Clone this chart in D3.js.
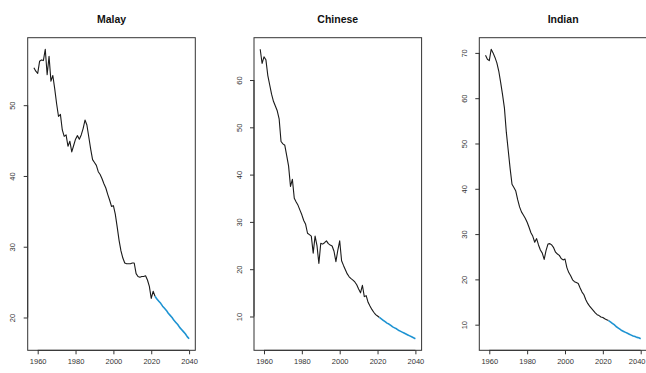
<!DOCTYPE html>
<html>
<head>
<meta charset="utf-8">
<script src="https://cdn.jsdelivr.net/npm/d3@7"></script>
<style>
  html, body { margin: 0; padding: 0; background: #fff; }
  svg { display: block; }
  text { font-family: "Liberation Sans", Arial, Helvetica, sans-serif; }
</style>
</head>
<body>
<svg id="chart" width="646" height="373"></svg>
<script>
// Observed series start in 1958; forecasts run to 2040.
const histStart = 1958;

const malayHist = [55.3, 54.8, 54.5, 56.2, 56.4, 56.3, 57.9, 54.3, 56.9, 53.4,
  54.2, 52.3, 50.2, 48.4, 48.7, 46.5, 45.6, 45.8, 44.2, 44.9,
  43.4, 44.3, 45.2, 45.7, 45.2, 45.8, 46.7, 47.9, 47.2, 45.5,
  43.8, 42.3, 41.9, 41.5, 40.6, 40.2, 39.6, 38.9, 38.3, 37.4,
  36.6, 35.7, 35.8, 34.6, 32.8, 30.9, 29.4, 28.4, 27.7, 27.6,
  27.6, 27.6, 27.7, 27.7, 26.2, 25.8, 25.7, 25.8, 25.8, 25.9,
  25.3, 24.4, 22.7, 23.7, 23.0];
const malayFcstStart = 2022;
const malayFcst = [23.0, 22.6, 22.3, 22.0, 21.6, 21.3, 21.0, 20.6, 20.3, 20.0,
  19.6, 19.3, 19.0, 18.6, 18.3, 18.0, 17.7, 17.3, 17.0];

const chineseHist = [66.5, 63.5, 64.9, 64.3, 61.0, 59.0, 57.0, 55.5, 54.5, 53.5,
  51.8, 47.0, 46.5, 46.2, 44.0, 41.8, 37.5, 39.0, 35.0, 34.2,
  33.5, 32.5, 31.5, 30.3, 29.5, 27.6, 27.3, 27.0, 23.4, 27.0,
  25.0, 21.2, 25.5, 25.3, 25.6, 26.0, 25.4, 25.1, 24.9, 23.8,
  21.6, 24.0, 26.0, 21.8, 20.8, 19.9, 19.0, 18.4, 18.0, 17.7,
  17.3, 16.7, 15.8, 15.0, 16.6, 14.2, 14.4, 13.0, 12.2, 11.5,
  10.9, 10.4, 10.1, 9.8];
const chineseFcstStart = 2021;
const chineseFcst = [9.8, 9.5, 9.2, 8.9, 8.6, 8.4, 8.1, 7.8, 7.6, 7.4,
  7.1, 6.9, 6.7, 6.5, 6.3, 6.1, 5.9, 5.7, 5.5, 5.3];

const indianHist = [69.5, 68.6, 68.3, 70.8, 70.0, 69.0, 67.8, 66.0, 63.5, 60.8,
  57.8, 52.5, 48.5, 44.5, 41.0, 40.3, 39.5, 37.6, 36.0, 34.9,
  34.2, 33.5, 32.6, 31.5, 30.3, 29.5, 28.2, 29.0, 27.6, 26.5,
  25.8, 24.4, 26.4, 27.8, 27.9, 27.6, 27.0, 26.0, 25.6, 25.3,
  24.6, 24.3, 24.5, 22.6, 21.5, 20.8, 19.9, 19.5, 19.3, 19.1,
  18.1, 17.2, 16.6, 15.5, 14.7, 14.1, 13.6, 13.1, 12.6, 12.2,
  12.0, 11.7, 11.6, 11.3, 11.1, 10.9];
const indianFcstStart = 2023;
const indianFcst = [10.9, 10.6, 10.3, 10.0, 9.6, 9.3, 9.0, 8.7, 8.5, 8.3,
  8.1, 7.9, 7.7, 7.5, 7.4, 7.2, 7.1, 6.9];

const panelTitles = ["Malay", "Chinese", "Indian"];
const xTickValues = [1960, 1980, 2000, 2020, 2040];
const malayYTicks = [20, 30, 40, 50];
const chineseYTicks = [10, 20, 30, 40, 50, 60];
const indianYTicks = [10, 20, 30, 40, 50, 60, 70];

const panels = [
  { title: panelTitles[0], hist: malayHist, fStart: malayFcstStart, fcst: malayFcst, yTicks: malayYTicks, left: 27.7 },
  { title: panelTitles[1], hist: chineseHist, fStart: chineseFcstStart, fcst: chineseFcst, yTicks: chineseYTicks, left: 254.0 },
  { title: panelTitles[2], hist: indianHist, fStart: indianFcstStart, fcst: indianFcst, yTicks: indianYTicks, left: 479.3 }
];

const W = 646;
const plotTop = 37.7, plotW = 167.6, plotH = 312.6;
const histColor = "#1a1a1a", fcstColor = "#1e93d2";

const svg = d3.select("#chart");

// R-style axis range: data extent padded by 4% on each side
function padded(ext) {
  const d = (ext[1] - ext[0]) * 0.04;
  return [ext[0] - d, ext[1] + d];
}

panels.forEach(p => {
  const histPts = p.hist.map((v, i) => ({ year: histStart + i, v }));
  const fcstPts = p.fcst.map((v, i) => ({ year: p.fStart + i, v }));
  const all = histPts.concat(fcstPts);

  const x = d3.scaleLinear()
    .domain(padded(d3.extent(all, d => d.year)))
    .range([p.left, p.left + plotW]);
  const y = d3.scaleLinear()
    .domain(padded(d3.extent(all, d => d.v)))
    .range([plotTop + plotH, plotTop]);

  const g = svg.append("g");

  // plot frame
  g.append("rect")
    .attr("x", p.left).attr("y", plotTop)
    .attr("width", plotW).attr("height", plotH)
    .attr("fill", "none").attr("stroke", "#333").attr("stroke-width", 1);

  // bottom axis
  const xAxis = g.append("g")
    .attr("transform", `translate(0,${plotTop + plotH})`)
    .call(d3.axisBottom(x).tickValues(xTickValues).tickFormat(d3.format("d")).tickSize(4).tickPadding(4));
  xAxis.select(".domain").remove();
  xAxis.append("line")
    .attr("x1", x(xTickValues[0])).attr("x2", x(xTickValues[xTickValues.length - 1]))
    .attr("stroke", "#333");
  xAxis.selectAll(".tick line").attr("stroke", "#333");
  xAxis.selectAll(".tick text")
    .attr("font-size", 7.5).attr("fill", "#333")
    .each(function (d) {
      // keep a label that would run past the page edge inside it
      const t = d3.select(this);
      const half = this.getComputedTextLength() / 2;
      if (x(d) + half > W - 1) t.attr("text-anchor", "end").attr("x", W - 1 - x(d));
    });

  // left axis, labels rotated to run along the axis
  const yAxis = g.append("g")
    .attr("transform", `translate(${p.left},0)`)
    .call(d3.axisLeft(y).tickValues(p.yTicks).tickFormat(d3.format("d")).tickSize(4));
  yAxis.select(".domain").remove();
  yAxis.append("line")
    .attr("y1", y(p.yTicks[0])).attr("y2", y(p.yTicks[p.yTicks.length - 1]))
    .attr("stroke", "#333");
  yAxis.selectAll(".tick line").attr("stroke", "#333");
  yAxis.selectAll(".tick text")
    .attr("font-size", 7.5).attr("fill", "#333")
    .attr("x", null)
    .attr("text-anchor", "middle")
    .attr("transform", "translate(-15,0) rotate(-90)")
    .attr("dy", "0.35em");

  const line = d3.line().x(d => x(d.year)).y(d => y(d.v));

  g.append("path").datum(histPts)
    .attr("d", line).attr("fill", "none")
    .attr("stroke", histColor).attr("stroke-width", 1.1)
    .attr("stroke-linejoin", "round");

  g.append("path").datum(fcstPts)
    .attr("d", line).attr("fill", "none")
    .attr("stroke", fcstColor).attr("stroke-width", 1.6)
    .attr("stroke-linejoin", "round");

  g.append("text")
    .attr("x", p.left + plotW / 2).attr("y", 22.5)
    .attr("text-anchor", "middle")
    .attr("font-size", 10.5).attr("font-weight", "bold").attr("fill", "#111")
    .text(p.title);
});
</script>
</body>
</html>
